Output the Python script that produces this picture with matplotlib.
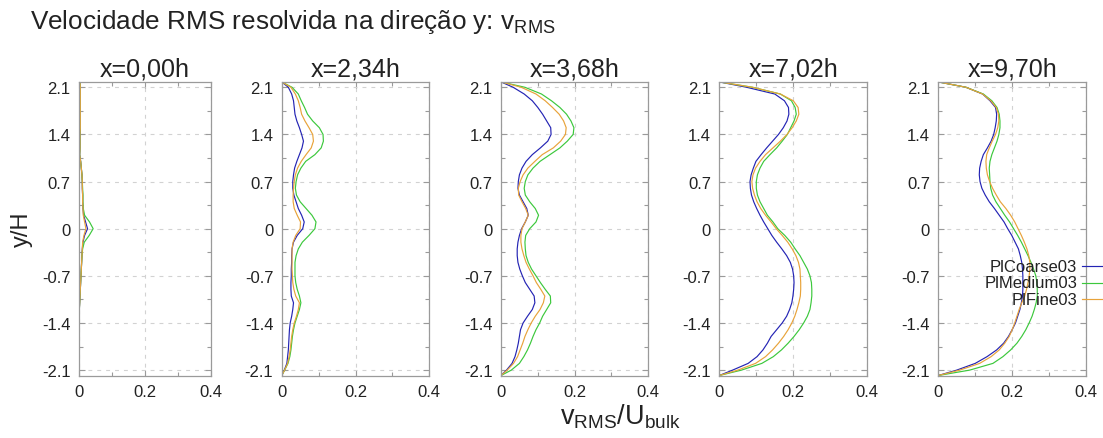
import matplotlib
matplotlib.use("Agg")
import matplotlib.pyplot as plt
from matplotlib.lines import Line2D
from matplotlib.ticker import FixedLocator, FixedFormatter

plt.rcParams["font.family"] = ["Liberation Sans", "DejaVu Sans"]
plt.rcParams["mathtext.fontset"] = "custom"
plt.rcParams["mathtext.rm"] = "Liberation Sans"
plt.rcParams["mathtext.it"] = "Liberation Sans"

# ---------------------------------------------------------------- data
Y = [2.18, 2.1, 2.0, 1.9, 1.8, 1.7, 1.6, 1.5, 1.4, 1.3, 1.2, 1.1, 1.0,
     0.9, 0.8, 0.7, 0.6, 0.5, 0.4, 0.3, 0.2, 0.1, 0.0, -0.1, -0.2, -0.3,
     -0.4, -0.5, -0.6, -0.7, -0.8, -0.9, -1.0, -1.1, -1.2, -1.3, -1.4,
     -1.5, -1.6, -1.7, -1.8, -1.9, -2.0, -2.1, -2.18]

STATIONS = ["x=0,00h", "x=2,34h", "x=3,68h", "x=7,02h", "x=9,70h"]
CASES = ["PlCoarse03", "PlMedium03", "PlFine03"]

# x = 0.00h
X000_COARSE = [0.003, 0.004, 0.004, 0.004, 0.004, 0.004, 0.004, 0.004, 0.003,
               0.003, 0.003, 0.002, 0.005, 0.007, 0.009, 0.010, 0.010, 0.011,
               0.011, 0.012, 0.014, 0.020, 0.026, 0.017, 0.012, 0.010, 0.009,
               0.008, 0.007, 0.006, 0.005, 0.004, 0.003, 0.002, 0.001, 0.001,
               0.001, 0.001, 0.001, 0.001, 0.001, 0.001, 0.001, 0.001, 0.001]
X000_MEDIUM = [0.003, 0.004, 0.004, 0.004, 0.004, 0.004, 0.004, 0.004, 0.003,
               0.003, 0.003, 0.002, 0.005, 0.007, 0.009, 0.010, 0.011, 0.012,
               0.012, 0.013, 0.017, 0.032, 0.043, 0.031, 0.016, 0.011, 0.009,
               0.008, 0.007, 0.006, 0.005, 0.004, 0.003, 0.002, 0.001, 0.001,
               0.001, 0.001, 0.001, 0.001, 0.001, 0.001, 0.001, 0.001, 0.001]
X000_FINE = [0.003, 0.004, 0.004, 0.004, 0.004, 0.004, 0.004, 0.004, 0.003,
             0.003, 0.003, 0.002, 0.005, 0.007, 0.009, 0.010, 0.010, 0.011,
             0.011, 0.012, 0.013, 0.017, 0.021, 0.015, 0.011, 0.010, 0.009,
             0.008, 0.007, 0.006, 0.005, 0.004, 0.003, 0.002, 0.001, 0.001,
             0.001, 0.001, 0.001, 0.001, 0.001, 0.001, 0.001, 0.001, 0.001]

# x = 2.34h
X234_COARSE = [0.0, 0.018, 0.027, 0.032, 0.034, 0.036, 0.041, 0.048, 0.054,
               0.059, 0.055, 0.048, 0.041, 0.035, 0.032, 0.030, 0.030, 0.033,
               0.039, 0.045, 0.054, 0.061, 0.057, 0.042, 0.032, 0.028, 0.027,
               0.027, 0.026, 0.026, 0.025, 0.025, 0.026, 0.032, 0.030, 0.027,
               0.023, 0.021, 0.020, 0.019, 0.018, 0.016, 0.014, 0.007, 0.0]
X234_MEDIUM = [0.0, 0.028, 0.045, 0.053, 0.062, 0.070, 0.084, 0.102, 0.112,
               0.113, 0.107, 0.090, 0.065, 0.052, 0.043, 0.039, 0.037, 0.040,
               0.050, 0.066, 0.082, 0.093, 0.090, 0.074, 0.056, 0.045, 0.039,
               0.036, 0.036, 0.036, 0.038, 0.042, 0.048, 0.052, 0.048, 0.042,
               0.036, 0.032, 0.029, 0.027, 0.025, 0.022, 0.017, 0.008, 0.0]
X234_FINE = [0.0, 0.025, 0.037, 0.045, 0.050, 0.054, 0.063, 0.074, 0.084,
             0.086, 0.080, 0.066, 0.053, 0.043, 0.037, 0.034, 0.032, 0.031,
             0.031, 0.034, 0.042, 0.051, 0.050, 0.038, 0.031, 0.028, 0.028,
             0.028, 0.028, 0.029, 0.030, 0.033, 0.038, 0.048, 0.045, 0.040,
             0.034, 0.030, 0.027, 0.025, 0.023, 0.020, 0.016, 0.008, 0.0]

# x = 3.68h
X368_COARSE = [0.0, 0.033, 0.063, 0.085, 0.100, 0.113, 0.124, 0.135, 0.136,
               0.127, 0.107, 0.085, 0.068, 0.057, 0.050, 0.047, 0.046, 0.050,
               0.060, 0.070, 0.074, 0.066, 0.056, 0.050, 0.046, 0.044, 0.044,
               0.046, 0.051, 0.058, 0.066, 0.078, 0.090, 0.092, 0.085, 0.072,
               0.060, 0.053, 0.050, 0.047, 0.043, 0.038, 0.030, 0.015, 0.0]
X368_MEDIUM = [0.0, 0.065, 0.110, 0.137, 0.160, 0.178, 0.190, 0.198, 0.196,
               0.180, 0.160, 0.133, 0.106, 0.087, 0.073, 0.066, 0.063, 0.066,
               0.078, 0.093, 0.102, 0.095, 0.078, 0.067, 0.065, 0.066, 0.068,
               0.074, 0.083, 0.095, 0.107, 0.120, 0.134, 0.135, 0.124, 0.113,
               0.105, 0.095, 0.087, 0.080, 0.072, 0.062, 0.050, 0.028, 0.0]
X368_FINE = [0.0, 0.055, 0.095, 0.120, 0.140, 0.158, 0.170, 0.177, 0.175,
             0.162, 0.142, 0.112, 0.092, 0.073, 0.060, 0.052, 0.047, 0.048,
             0.057, 0.067, 0.074, 0.066, 0.057, 0.054, 0.054, 0.057, 0.062,
             0.068, 0.077, 0.087, 0.096, 0.108, 0.119, 0.115, 0.106, 0.093,
             0.082, 0.073, 0.065, 0.059, 0.052, 0.045, 0.034, 0.017, 0.0]

# x = 7.02h
X702_COARSE = [0.0, 0.074, 0.150, 0.176, 0.187, 0.188, 0.183, 0.173, 0.160,
               0.144, 0.128, 0.113, 0.099, 0.092, 0.086, 0.083, 0.084, 0.087,
               0.093, 0.101, 0.110, 0.120, 0.131, 0.142, 0.155, 0.169, 0.182,
               0.192, 0.198, 0.201, 0.202, 0.201, 0.199, 0.196, 0.190, 0.182,
               0.170, 0.155, 0.140, 0.130, 0.118, 0.102, 0.078, 0.036, 0.0]
X702_MEDIUM = [0.0, 0.090, 0.165, 0.195, 0.205, 0.208, 0.202, 0.193, 0.184,
               0.170, 0.155, 0.137, 0.120, 0.110, 0.103, 0.100, 0.100, 0.103,
               0.110, 0.120, 0.130, 0.145, 0.158, 0.177, 0.193, 0.205, 0.218,
               0.228, 0.238, 0.245, 0.249, 0.250, 0.250, 0.248, 0.245, 0.238,
               0.228, 0.216, 0.202, 0.186, 0.168, 0.146, 0.115, 0.060, 0.0]
X702_FINE = [0.0, 0.090, 0.165, 0.200, 0.213, 0.215, 0.208, 0.197, 0.183,
             0.165, 0.145, 0.125, 0.110, 0.098, 0.091, 0.088, 0.090, 0.095,
             0.102, 0.112, 0.125, 0.140, 0.154, 0.170, 0.185, 0.197, 0.207,
             0.214, 0.218, 0.219, 0.220, 0.220, 0.219, 0.215, 0.210, 0.204,
             0.196, 0.186, 0.174, 0.160, 0.144, 0.125, 0.098, 0.050, 0.0]

# x = 9.70h
X970_COARSE = [0.0, 0.075, 0.120, 0.140, 0.155, 0.158, 0.157, 0.154, 0.150,
               0.143, 0.133, 0.122, 0.116, 0.112, 0.111, 0.113, 0.118, 0.127,
               0.138, 0.152, 0.165, 0.178, 0.188, 0.199, 0.208, 0.217, 0.222,
               0.226, 0.228, 0.229, 0.229, 0.229, 0.228, 0.225, 0.221, 0.215,
               0.209, 0.200, 0.190, 0.177, 0.158, 0.132, 0.100, 0.050, 0.0]
X970_MEDIUM = [0.0, 0.075, 0.122, 0.145, 0.159, 0.165, 0.167, 0.167, 0.164,
               0.159, 0.152, 0.145, 0.140, 0.138, 0.139, 0.140, 0.142, 0.147,
               0.156, 0.168, 0.180, 0.193, 0.204, 0.215, 0.225, 0.234, 0.243,
               0.251, 0.258, 0.264, 0.267, 0.268, 0.268, 0.265, 0.260, 0.254,
               0.246, 0.237, 0.226, 0.213, 0.196, 0.175, 0.148, 0.085, 0.0]
X970_FINE = [0.0, 0.075, 0.120, 0.142, 0.157, 0.163, 0.164, 0.161, 0.155,
             0.146, 0.138, 0.131, 0.129, 0.130, 0.133, 0.139, 0.147, 0.157,
             0.168, 0.183, 0.196, 0.207, 0.216, 0.225, 0.233, 0.240, 0.245,
             0.248, 0.248, 0.246, 0.243, 0.239, 0.234, 0.226, 0.219, 0.213,
             0.207, 0.200, 0.192, 0.180, 0.165, 0.143, 0.112, 0.058, 0.0]

PROFILES = [
    (X000_COARSE, X000_MEDIUM, X000_FINE),
    (X234_COARSE, X234_MEDIUM, X234_FINE),
    (X368_COARSE, X368_MEDIUM, X368_FINE),
    (X702_COARSE, X702_MEDIUM, X702_FINE),
    (X970_COARSE, X970_MEDIUM, X970_FINE),
]

Y_TICKS = [-2.1, -1.4, -0.7, 0.0, 0.7, 1.4, 2.1]
Y_TICK_LABELS = ["-2.1", "-1.4", "-0.7", "0", "0.7", "1.4", "2.1"]
X_TICKS = [0.0, 0.2, 0.4]
X_TICK_LABELS = ["0", "0.2", "0.4"]

# ---------------------------------------------------------------- style
COLORS = ["#2424b4", "#3cc83c", "#e8a33a"]
W, H = 1103, 439
# panel extents in pixels: (left, right)
PANELS_PX = [(79, 210.7), (281.7, 429.3), (501, 648.3), (719.3, 867.3), (938.3, 1086)]
TOP_PX, BOT_PX = 82.7, 376.7
SPINE = "#9a9a9a"
GRID = "#d2d2d2"
TEXT = "#222222"

fig = plt.figure(figsize=(W / 100, H / 100), dpi=100)

axes = []
for i, (l, r) in enumerate(PANELS_PX):
    ax = fig.add_axes([l / W, 1 - BOT_PX / H, (r - l) / W, (BOT_PX - TOP_PX) / H])
    for series, color in zip(PROFILES[i], COLORS):
        ax.plot(series, Y, color=color, lw=0.85)
    ax.set_xlim(0, 0.4)
    ax.set_ylim(-2.183, 2.183)

    ax.xaxis.set_major_locator(FixedLocator(X_TICKS))
    ax.xaxis.set_major_formatter(FixedFormatter(X_TICK_LABELS))
    ax.xaxis.set_minor_locator(FixedLocator([0.1, 0.3]))
    ax.yaxis.set_major_locator(FixedLocator(Y_TICKS))
    ax.yaxis.set_major_formatter(FixedFormatter(Y_TICK_LABELS))
    ax.yaxis.set_minor_locator(FixedLocator([-1.75, -1.05, -0.35, 0.35, 1.05, 1.75]))

    ax.tick_params(which="both", direction="in", top=True, right=True,
                   color=SPINE, labelsize=12, labelcolor=TEXT, width=0.8)
    ax.tick_params(which="major", length=4.5)
    ax.tick_params(which="minor", length=3)
    ax.tick_params(axis="y", pad=6)
    ax.tick_params(axis="x", pad=6)
    ax.grid(True, which="major", color=GRID, ls=(0, (3.5, 4.5)), lw=0.8)
    for s in ax.spines.values():
        s.set_color(SPINE)
        s.set_linewidth(0.9)

    cx = (l + r) / 2 / W
    fig.text(cx, 1 - 77 / H, STATIONS[i], ha="center", va="baseline",
             fontsize=18, color=TEXT)
    axes.append(ax)

# titles and axis labels
fig.text(30 / W, 1 - 29 / H, r"Velocidade RMS resolvida na direção y: $\mathregular{v_{RMS}}$",
         ha="left", va="baseline", fontsize=18.8, color=TEXT)
fig.text(22 / W, 1 - 229.7 / H, "y/H", rotation=90, ha="center", va="center",
         fontsize=17, color=TEXT)
fig.text(620 / W, 1 - 417 / H, r"$\mathregular{v_{RMS}/U_{bulk}}$", ha="center",
         va="center", fontsize=19.5, color=TEXT)

# case key, drawn at the right edge of the last panel
for k, (name, color) in enumerate(zip(CASES, COLORS)):
    yy = 1 - (267.3 + 16.5 * k) / H
    fig.text(1077 / W, yy, name, ha="right", va="center", fontsize=12, color=TEXT)
    fig.add_artist(Line2D([1082 / W, 1103 / W], [yy, yy], color=color, lw=0.85))

fig.savefig("out.png", dpi=100)
